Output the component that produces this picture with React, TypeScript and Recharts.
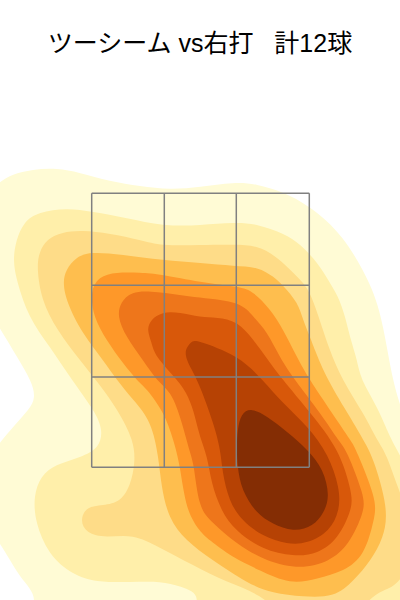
import { Scatter, ScatterChart, XAxis, YAxis } from "recharts";

type Pair = [number, number];

// density bands, outermost first. x = offset from plate centre, y = height
const band1: Pair[] = [[-200,417],[-187,425],[-167,430],[-143,431],[-120,427],[-90,419],[-60,414],[-30,411],[0,413],[33,417],[57,415],[83,407],[110,392],[142,363],[170,315],[183,273],[193,220],[205,180],[225,120],[230,40],[230,-30],[-130,-30],[-157,0],[-180,23],[-200,58],[-215,75],[-220,110],[-215,135],[-200,157],[-187,173],[-172,190],[-166,203],[-170,220],[-183,243],[-200,272],[-215,300],[-225,350],[-215,400]];
const band2: Pair[] = [[-186,340],[-183,360],[-175,377],[-160,387],[-133,391],[-107,388],[-73,382],[-37,375],[0,375],[33,377],[57,375],[83,366],[100,355],[117,337],[128,320],[138,303],[145,283],[150,263],[157,240],[162,220],[177,193],[190,163],[200,143],[225,80],[230,-30],[15,-25],[3,2],[-20,13],[-40,18],[-70,18],[-103,19],[-127,27],[-150,47],[-163,77],[-165,103],[-158,123],[-143,135],[-120,143],[-103,153],[-99,170],[-107,190],[-128,220],[-150,253],[-170,283],[-182,317]];
const band3: Pair[] = [[-162,330],[-160,347],[-152,360],[-137,367],[-117,369],[-90,366],[-60,360],[-37,355],[0,355],[33,355],[57,353],[77,342],[93,327],[107,312],[115,293],[122,273],[130,250],[143,220],[163,187],[177,160],[187,143],[200,105],[215,60],[200,20],[183,10],[168,0],[150,-15],[90,-15],[60,5],[27,18],[-7,35],[-40,52],[-67,64],[-93,63],[-112,68],[-118,80],[-112,92],[-97,95],[-80,100],[-70,117],[-66,137],[-68,160],[-83,190],[-102,217],[-120,240],[-142,270],[-157,300]];
const band4: Pair[] = [[-136,317],[-133,330],[-123,342],[-107,347],[-77,345],[-37,340],[0,337],[33,334],[57,332],[73,323],[83,314],[97,297],[103,280],[110,263],[115,250],[128,220],[150,183],[163,160],[173,140],[186,93],[182,63],[170,40],[153,20],[133,5],[103,4],[73,8],[47,18],[13,40],[-13,60],[-30,83],[-38,113],[-42,143],[-50,177],[-67,200],[-83,220],[-97,240],[-117,267],[-132,297]];
const band5: Pair[] = [[-108,307],[-100,322],[-83,327],[-60,327],[-37,325],[0,318],[37,313],[53,307],[70,290],[83,270],[97,243],[110,220],[132,187],[150,160],[157,147],[174,103],[173,80],[163,47],[143,30],[117,22],[90,18],[60,30],[33,43],[10,60],[0,70],[-13,92],[-20,133],[-27,160],[-37,187],[-53,210],[-63,220],[-77,237],[-93,260],[-105,283]];
const band6: Pair[] = [[-81,283],[-78,297],[-67,307],[-43,308],[0,302],[37,297],[53,283],[67,267],[80,243],[95,220],[120,187],[138,160],[147,147],[162,107],[162,87],[148,57],[128,40],[100,33],[67,40],[37,57],[13,78],[0,95],[-6,133],[-10,147],[-20,183],[-30,207],[-43,220],[-57,240],[-73,263]];
const band7: Pair[] = [[-52,270],[-48,280],[-37,287],[-20,287],[0,283],[17,282],[37,277],[53,260],[68,240],[83,220],[110,187],[137,150],[150,110],[150,90],[137,63],[117,48],[93,45],[63,52],[37,70],[22,90],[12,117],[7,143],[0,163],[-5,183],[-12,203],[-23,220],[-43,243],[-48,257]];
const band8: Pair[] = [[-15,247],[-8,257],[0,258],[37,243],[62,220],[83,197],[107,173],[127,145],[138,113],[138,90],[128,70],[107,58],[87,57],[63,65],[43,80],[30,100],[23,127],[20,150],[13,177],[0,213],[-8,230]];
const band9: Pair[] = [[38,170],[42,185],[52,190],[67,183],[87,168],[107,150],[122,130],[128,105],[123,88],[112,75],[93,70],[73,77],[57,88],[43,110],[38,133],[37,153]];

const BANDS = [band1, band2, band3, band4, band5, band6, band7, band8, band9];
const COLORS = ["#fffbd5", "#ffefaa", "#fedc88", "#febe4e", "#fe9829", "#ee761b", "#d8580a", "#b64204", "#842d04"];

const zoneX = [-108.3, -35.7, 36.3, 109.3];
const zoneY = [132.7, 223, 314.7, 406.7];

const NoDot = () => null;

// basisClosed pulls away from its control points, one correction pass
// brings the curve back near the values
function toControlPoints(band: Pair[]) {
  const n = band.length;
  return band.map(([x, y], i) => {
    const [ax, ay] = band[(i + n - 1) % n];
    const [bx, by] = band[(i + 1) % n];
    return {
      x: x + (2 * x - ax - bx) / 6,
      y: y + (2 * y - ay - by) / 6,
    };
  });
}

export default function App() {
  return (
    <div style={{ position: "absolute", left: 0, top: 0, width: 400, height: 600, background: "#fff" }}>
      <div
        style={{
          position: "absolute",
          top: 25,
          width: 400,
          textAlign: "center",
          whiteSpace: "pre",
          fontFamily: '"Liberation Sans", "Noto Sans CJK JP", sans-serif',
          fontSize: 25,
          lineHeight: "36px",
          color: "#000",
        }}
      >
        {"ツーシーム vs右打   計12球"}
      </div>
      <ScatterChart width={400} height={600} margin={{ top: 0, right: 0, bottom: 0, left: 0 }}>
        <XAxis type="number" dataKey="x" domain={[-200, 200]} allowDataOverflow hide />
        <YAxis type="number" dataKey="y" domain={[0, 600]} allowDataOverflow hide />
        {BANDS.map((band, i) => (
          <Scatter
            key={i}
            data={toControlPoints(band)}
            line={{ fill: COLORS[i], stroke: "none" }}
            lineJointType="basisClosed"
            shape={NoDot}
            isAnimationActive={false}
          />
        ))}
        {zoneX.map((x) => (
          <Scatter
            key={x}
            data={[
              { x, y: zoneY[0] },
              { x, y: zoneY[3] },
            ]}
            line={{ stroke: "#808080", strokeWidth: 1.5 }}
            shape={NoDot}
            isAnimationActive={false}
          />
        ))}
        {zoneY.map((y) => (
          <Scatter
            key={y}
            data={[
              { x: zoneX[0], y },
              { x: zoneX[3], y },
            ]}
            line={{ stroke: "#808080", strokeWidth: 1.5 }}
            shape={NoDot}
            isAnimationActive={false}
          />
        ))}
      </ScatterChart>
    </div>
  );
}
